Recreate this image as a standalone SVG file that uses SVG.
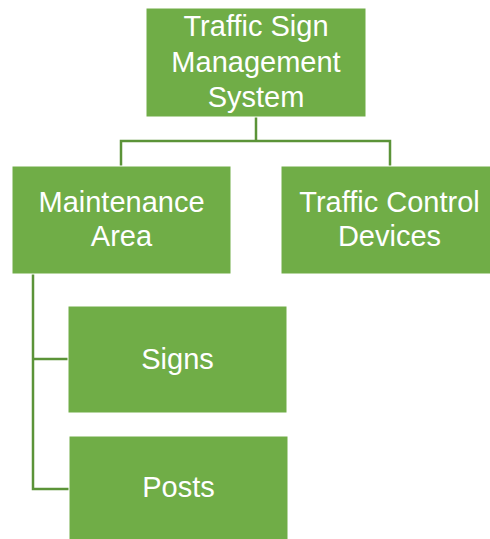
<svg xmlns="http://www.w3.org/2000/svg" width="490" height="539" viewBox="0 0 490 539">
  <style>
    .box { fill: #70AD47; stroke: #FFFFFF; stroke-width: 1; }
    .lbl { font-family: "Liberation Sans", Arial, sans-serif; font-size: 29px; fill: #FFFFFF; text-anchor: middle; }
    .link { fill: none; stroke: #5B9338; stroke-width: 2.5; }
  </style>
  <rect width="490" height="539" fill="#FFFFFF"/>

  <!-- connectors -->
  <g id="connectors">
    <path class="link" d="M256,117 V141 M121,166 V141 H390 V166"/>
    <path class="link" d="M33,274 V489 H69 M33,359 H68"/>
  </g>

  <g id="node-root">
    <rect class="box" x="146" y="8" width="220" height="109"/>
    <text class="lbl" x="256" y="36">Traffic Sign</text>
    <text class="lbl" x="256" y="72">Management</text>
    <text class="lbl" x="256" y="107">System</text>
  </g>

  <g id="node-maintenance">
    <rect class="box" x="12" y="166" width="219" height="108"/>
    <text class="lbl" x="121.5" y="212">Maintenance</text>
    <text class="lbl" x="121.5" y="246">Area</text>
  </g>

  <g id="node-tcd">
    <rect class="box" x="281" y="166" width="217" height="108"/>
    <text class="lbl" x="389.5" y="212">Traffic Control</text>
    <text class="lbl" x="389.5" y="246">Devices</text>
  </g>

  <g id="node-signs">
    <rect class="box" x="68" y="306" width="219" height="107"/>
    <text class="lbl" x="177.5" y="369">Signs</text>
  </g>

  <g id="node-posts">
    <rect class="box" x="69" y="436" width="219" height="108"/>
    <text class="lbl" x="178.5" y="497">Posts</text>
  </g>
</svg>
